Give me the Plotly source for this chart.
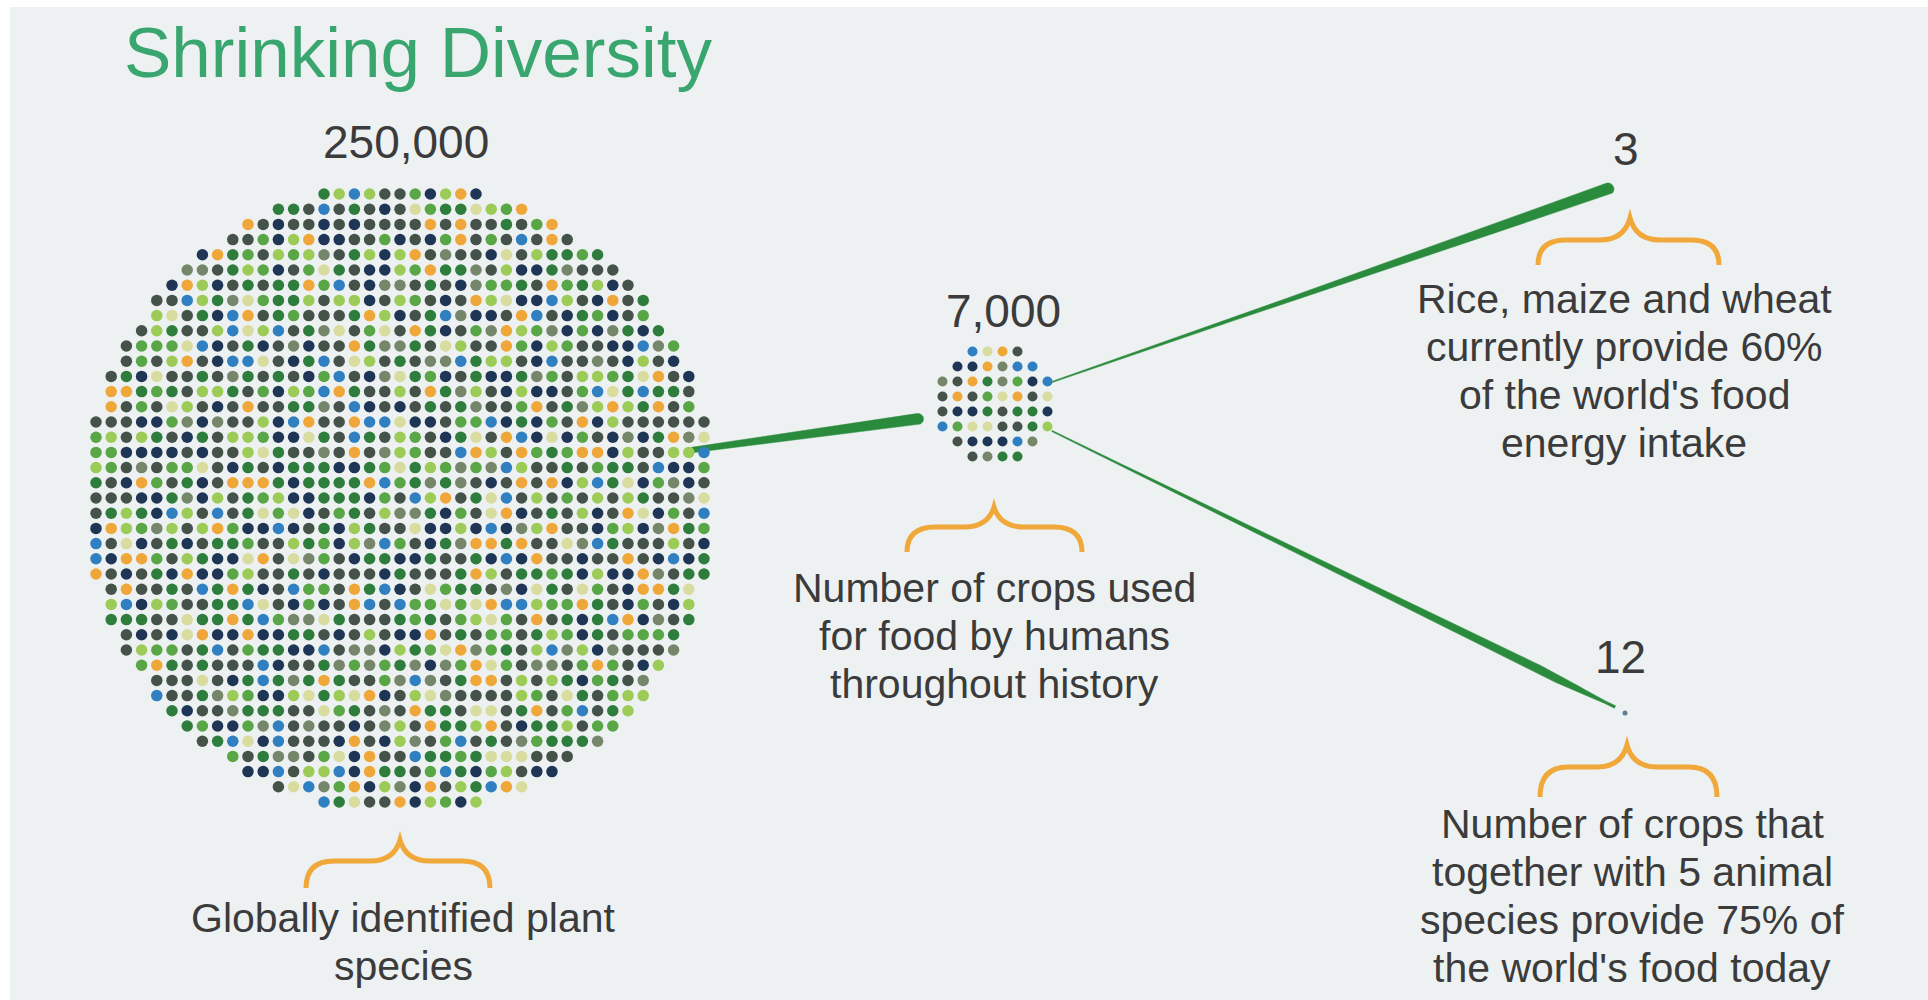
import numpy as np
import plotly.graph_objects as go

# ---------------- data ----------------
TITLE = "Shrinking Diversity"
stage_values = [250000, 7000, 3, 12]
stage_labels = ["250,000", "7,000", "3", "12"]
stage_descriptions = [
    ["Globally identified plant", "species"],
    ["Number of crops used", "for food by humans", "throughout history"],
    ["Rice, maize and wheat", "currently provide 60%", "of the world's food", "energy intake"],
    ["Number of crops that", "together with 5 animal", "species provide 75% of", "the world's food today"],
]
dot_palette = ["#45524a", "#1f3556", "#2e7d3c", "#58a646", "#9dcb57",
               "#d8dc9e", "#f0a73a", "#2f7fc1", "#76866a"]
dot_shares = [26, 14, 16, 10, 9, 6, 8, 5, 6]

# ---------------- layout / style ----------------
W, H = 1928, 1000
BG = "#edf1f2"
TEXT = "#3b3b3b"
GREEN_TITLE = "#3aa66f"
LINE_GREEN = "#2b8b3d"
BRACE = "#f1a83a"
FONT = "Liberation Sans, Arial, Helvetica, sans-serif"

big = dict(cx=400, cy=498, r=316, step=15.2, size=11.5)
small = dict(cx=995, cy=404, r=60, step=15.0, size=10)

label_pos = [(406, 158), (1003, 327), (1626, 165), (1620, 673)]        # centre x, baseline
desc_pos = [(403, 932), (994, 602), (1624, 313), (1632, 838)]          # centre x, first baseline
LINE_GAP = 48
braces = [(306, 490, 400, 840, 861, 888),
          (907, 1082, 994, 507, 527, 552),
          (1538, 1719, 1630, 218, 240, 265),
          (1540, 1717, 1627, 745, 767, 797)]


def pick_color(i, j, salt):
    h = ((i * 73856093) ^ (j * 19349663) ^ (salt * 83492791)) & 0xFFFFFF
    v = (h * 2654435761 >> 7) % sum(dot_shares)
    acc = 0
    for c, s in zip(dot_palette, dot_shares):
        acc += s
        if v < acc:
            return c
    return dot_palette[0]


def dot_grid(cx, cy, r, step, salt, half=False):
    xs, ys, cs = [], [], []
    n = int(r / step) + 2
    off = 0.5 if half else 0.0
    for i in range(-n, n + 1):
        for j in range(-n, n + 1):
            dx = (i + off) * step
            dy = (j + off) * step
            if dx * dx + dy * dy <= (r - 2) ** 2:
                xs.append(cx + dx)
                ys.append(cy + dy)
                cs.append(pick_color(i + 50, j + 50, salt))
    return xs, ys, cs


def taper(p0, p1, wfun, n=60, cap=True):
    p0 = np.array(p0, float)
    p1 = np.array(p1, float)
    t = np.linspace(0, 1, n)
    d = p1 - p0
    L = np.hypot(*d)
    u = d / L
    nrm = np.array([-u[1], u[0]])
    w = wfun(t)
    pts = p0[None, :] + t[:, None] * d[None, :]
    left = pts + nrm[None, :] * (w[:, None] / 2)
    right = pts - nrm[None, :] * (w[:, None] / 2)
    poly = list(left)
    if cap:
        we = w[-1] / 2
        for a in np.linspace(0, np.pi, 14)[1:-1]:
            poly.append(p1 + nrm * np.cos(a) * we + u * np.sin(a) * we)
    poly += list(right[::-1])
    poly.append(poly[0])
    poly = np.array(poly)
    return poly[:, 0], poly[:, 1]


def brace_path(x0, x1, xc, yt, yb, ye):
    c = 28
    return (f"M {x0},{ye} Q {x0},{yb} {x0 + c},{yb} L {xc - 30},{yb} "
            f"Q {xc - 6},{yb} {xc},{yt} Q {xc + 6},{yb} {xc + 30},{yb} "
            f"L {x1 - c},{yb} Q {x1},{yb} {x1},{ye}")


fig = go.Figure()

# connecting lines (below dots)
lines = [
    ((692, 450), (918, 419), lambda t: 5.5 + 5.5 * t, True),
    ((1052, 382), (1608, 189), lambda t: 1.2 + 10.8 * t ** 1.5, True),
    ((1052, 431), (1615, 707),
     lambda t: (1.2 + 9.5 * t ** 1.3) * np.clip((1 - t) / 0.12, 0.25, 1), False),
]
for p0, p1, wf, cap in lines:
    x, y = taper(p0, p1, wf, cap=cap)
    fig.add_trace(go.Scatter(x=x, y=y, mode="lines", fill="toself",
                             fillcolor=LINE_GREEN, line=dict(color=LINE_GREEN, width=0.5),
                             hoverinfo="skip", showlegend=False))

# dot circles
for spec, salt, half in [(big, 3, False), (small, 11, True)]:
    xs, ys, cs = dot_grid(spec["cx"], spec["cy"], spec["r"], spec["step"], salt, half)
    fig.add_trace(go.Scatter(x=xs, y=ys, mode="markers",
                             marker=dict(size=spec["size"], color=cs, line=dict(width=0)),
                             hoverinfo="skip", showlegend=False))

# tiny end dot for "12"
fig.add_trace(go.Scatter(x=[1625], y=[713], mode="markers",
                         marker=dict(size=5, color="#5f7d95"), hoverinfo="skip",
                         showlegend=False))

shapes = [dict(type="rect", xref="x", yref="y", x0=10, x1=W, y0=7, y1=H,
               fillcolor=BG, line=dict(width=0), layer="below")]
for b in braces:
    shapes.append(dict(type="path", xref="x", yref="y", path=brace_path(*b),
                       line=dict(color=BRACE, width=5), layer="above"))

annotations = [dict(x=122, y=77 - 0.3465 * 71, xref="x", yref="y", text=TITLE,
                    showarrow=False, xanchor="left", yanchor="middle",
                    font=dict(family=FONT, size=71, color=GREEN_TITLE))]
for (cx, base), lab in zip(label_pos, stage_labels):
    annotations.append(dict(x=cx, y=base - 0.3465 * 46, xref="x", yref="y", text=lab,
                            showarrow=False, xanchor="center", yanchor="middle",
                            font=dict(family=FONT, size=46, color=TEXT)))
for (cx, base), lines_txt in zip(desc_pos, stage_descriptions):
    for k, txt in enumerate(lines_txt):
        annotations.append(dict(x=cx, y=base + k * LINE_GAP - 0.3465 * 41, xref="x", yref="y",
                                text=txt, showarrow=False, xanchor="center", yanchor="middle",
                                font=dict(family=FONT, size=41, color=TEXT)))

fig.update_layout(
    width=W, height=H, margin=dict(l=0, r=0, t=0, b=0, pad=0),
    paper_bgcolor="white", plot_bgcolor="white",
    xaxis=dict(range=[0, W], visible=False, fixedrange=True),
    yaxis=dict(range=[H, 0], visible=False, fixedrange=True),
    shapes=shapes, annotations=annotations, showlegend=False, hovermode=False,
)

fig.write_html("out.html", config={"displayModeBar": False, "staticPlot": True},
               post_script="document.body.style.margin='0';document.body.style.overflow='hidden';")
